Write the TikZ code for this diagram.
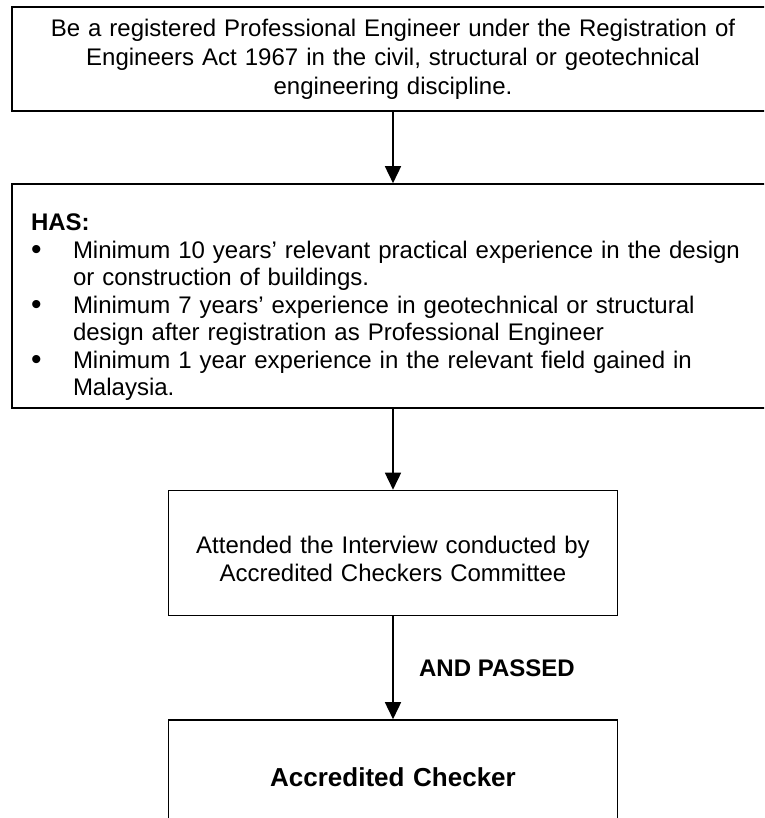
\documentclass[tikz,border=0pt]{standalone}
\usepackage{fontspec}
\setmainfont{Liberation Sans}
\usetikzlibrary{arrows.meta,positioning}

\tikzset{
	stagebox/.style={draw, line width=1.6pt, inner sep=0pt, align=center, font=\fontsize{24}{27.5}\selectfont},
	flowarrow/.style={line width=1.6pt, -{Triangle[length=17pt,width=16pt]}},
	passlabel/.style={font=\bfseries\fontsize{24}{27.5}\selectfont},
}
\newcommand{\hasitem}[1]{\makebox[42pt][l]{\raisebox{-1.5pt}{\fontsize{30}{30}\selectfont\textbullet}}#1}
\newcommand{\hasnext}[1]{\hspace*{42pt}#1}

\begin{document}
\begin{tikzpicture}[x=1pt,y=-1pt]
	% Frame
	\useasboundingbox (0,0) rectangle (764,818);
	\clip (0,0) rectangle (764,818);

	% Registration
	\node[stagebox, minimum width=762pt, minimum height=104pt, text width=740pt, font=\fontsize{24}{29}\selectfont] (reg) at (393,59)
		{Be a registered Professional Engineer under the Registration of\\
		Engineers Act 1967 in the civil, structural or geotechnical\\
		engineering discipline.};

	% Experience
	\node[stagebox, align=left, minimum width=762pt, minimum height=224pt, text width=724pt] (has) at (393,296)
		{\rule{0pt}{39pt}\textbf{HAS:}\\
		\hasitem{Minimum 10 years’ relevant practical experience in the design}\\
		\hasnext{or construction of buildings.}\\
		\hasitem{Minimum 7 years’ experience in geotechnical or structural}\\
		\hasnext{design after registration as Professional Engineer}\\
		\hasitem{Minimum 1 year experience in the relevant field gained in}\\
		\hasnext{Malaysia.}};

	% Interview
	\node[stagebox, minimum width=449pt, minimum height=125pt, text width=430pt, font=\fontsize{24}{28}\selectfont] (interview) at (393,553)
		{\rule{0pt}{30pt}Attended the Interview conducted by\\
		Accredited Checkers Committee};

	% Checker
	\node[stagebox, minimum width=449pt, minimum height=114pt, text width=430pt, font=\bfseries\fontsize{26}{30}\selectfont] (checker) at (393,777)
		{Accredited Checker};

	% Arrows
	\draw[flowarrow] (reg) -- (has);
	\draw[flowarrow] (has) -- (interview);
	\draw[flowarrow] (interview) -- node[passlabel, right=22pt] {AND PASSED} (checker);
\end{tikzpicture}
\end{document}
